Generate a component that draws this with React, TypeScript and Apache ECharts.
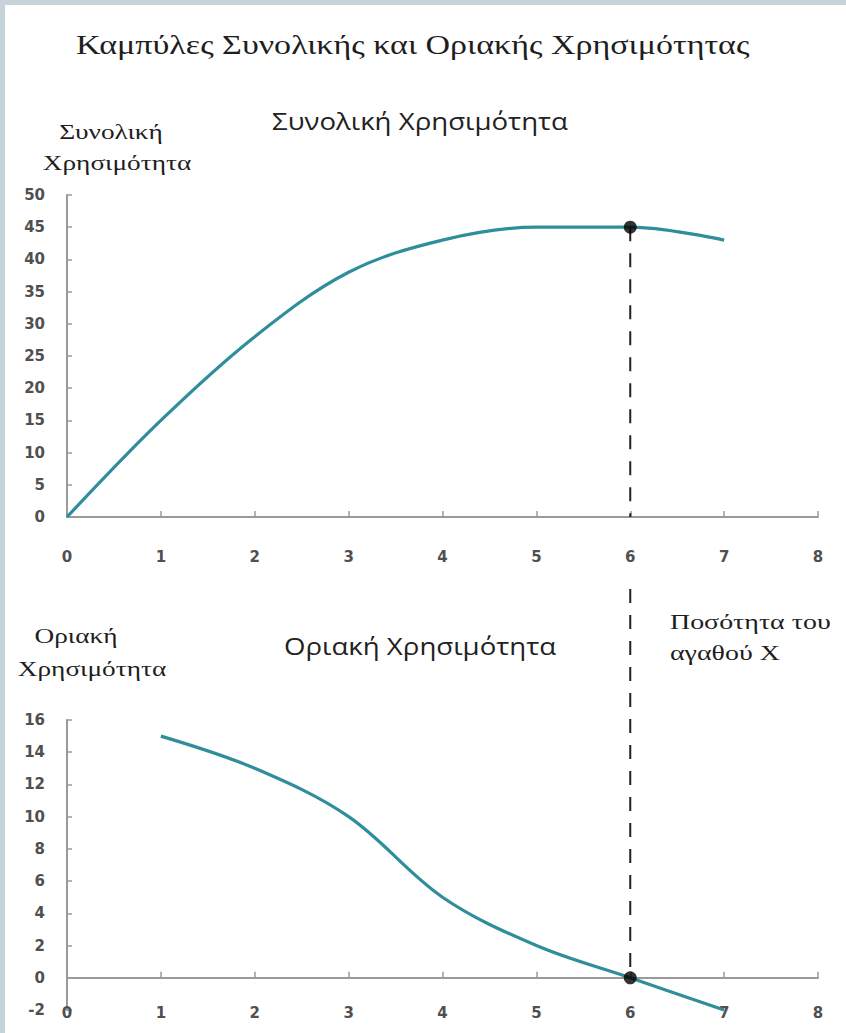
import React, { useEffect, useRef } from "react";
import * as echarts from "echarts";

const xTicks = [0, 1, 2, 3, 4, 5, 6, 7, 8];
const tuQty = [0, 1, 2, 3, 4, 5, 6, 7];
const tuValues = [0, 15, 28, 38, 43, 45, 45, 43];
const muQty = [1, 2, 3, 4, 5, 6, 7];
const muValues = [15, 13, 10, 5, 2, 0, -2];
const optimumQty = 6;
const tuAtOptimum = 45;
const muAtOptimum = 0;

const mainTitle = "Καμπύλες Συνολικής και Οριακής Χρησιμότητας";
const tuTitle = "Συνολική Χρησιμότητα";
const muTitle = "Οριακή Χρησιμότητα";
const tuAxisName = ["Συνολική", "Χρησιμότητα"];
const muAxisName = ["Οριακή", "Χρησιμότητα"];
const qtyName = ["Ποσότητα του", "αγαθού Χ"];

const AXIS = "#9a9a9a";
const LINE = "#2f8e9b";
const TICK_TEXT = "#505050";
const SERIF = "'Liberation Serif', 'DejaVu Serif', serif";
const SANS = "'Open Sans', 'Noto Sans', sans-serif";
const TICK_FONT = "'DejaVu Sans', sans-serif";

export default function App() {
  const ref = useRef<HTMLDivElement>(null);
  useEffect(() => {
    const chart = echarts.init(ref.current!, null, { renderer: "svg" });
    const tickLabel = (margin: number, show = true) => ({
      show,
      margin,
      color: TICK_TEXT,
      fontFamily: TICK_FONT,
      fontWeight: "bold",
      fontSize: 15,
    });
    const xAxisBase = (gridIndex: number, labelShow: boolean, margin: number) => ({
      type: "value",
      gridIndex,
      min: xTicks[0],
      max: xTicks[xTicks.length - 1],
      interval: 1,
      axisLine: { show: true, onZero: true, lineStyle: { color: AXIS, width: 2 } },
      axisTick: { show: true, inside: true, length: 6, lineStyle: { color: AXIS, width: 1.5 } },
      axisLabel: tickLabel(margin, labelShow),
      splitLine: { show: false },
    });
    const yAxisBase = (gridIndex: number, min: number, max: number, interval: number) => ({
      type: "value",
      gridIndex,
      min,
      max,
      interval,
      axisLine: { show: true, lineStyle: { color: AXIS, width: 2 } },
      axisTick: { show: true, inside: true, length: 5, lineStyle: { color: AXIS, width: 1.5 } },
      axisLabel: tickLabel(22),
      splitLine: { show: false },
    });

    const serifText = (id: string, x: number, y: number, text: string, size: number, sx: number, align = "left") => ({
      id,
      type: "text",
      x,
      y,
      scaleX: sx,
      style: { text, font: `${size}px ${SERIF}`, fill: "#1e1e1e", textAlign: align, textVerticalAlign: "middle" },
    });

    const texts: any[] = [
      { id: "bt", type: "rect", shape: { x: 0, y: 0, width: 846, height: 5 }, style: { fill: "#c7d3db" }, z: 0 },
      { id: "bl", type: "rect", shape: { x: 0, y: 0, width: 5, height: 1033 }, style: { fill: "#c7d3db" }, z: 0 },
      serifText("t0", 76, 45, mainTitle, 27, 1.26),
      {
        id: "t1", type: "text", x: 272, y: 121, scaleX: 1.15,
        style: { text: tuTitle, font: `24px ${SANS}`, fill: "#222", textVerticalAlign: "middle" },
      },
      {
        id: "t2", type: "text", x: 284, y: 646, scaleX: 1.15,
        style: { text: muTitle, font: `24px ${SANS}`, fill: "#222", textVerticalAlign: "middle" },
      },
      serifText("t3", 111, 132, tuAxisName[0], 21, 1.3, "center"),
      serifText("t4", 117, 163, tuAxisName[1], 21, 1.3, "center"),
      serifText("t5", 76, 636, muAxisName[0], 21, 1.3, "center"),
      serifText("t6", 92, 669, muAxisName[1], 21, 1.3, "center"),
      serifText("t7", 670, 622, qtyName[0], 21, 1.33),
      serifText("t8", 670, 653, qtyName[1], 21, 1.33),
    ];

    chart.setOption({
      animation: false,
      backgroundColor: "#ffffff",
      grid: [
        { left: 67, right: 28, top: 195, height: 322, outerBoundsMode: "none" },
        { left: 67, right: 28, top: 720, height: 290, outerBoundsMode: "none" },
      ],
      xAxis: [
        xAxisBase(0, true, 32),
        xAxisBase(1, false, 8),
        {
          type: "value",
          gridIndex: 1,
          position: "bottom",
          offset: -12,
          min: xTicks[0],
          max: xTicks[xTicks.length - 1],
          interval: 1,
          axisLine: { show: false, onZero: false },
          axisTick: { show: false },
          axisLabel: tickLabel(7),
          splitLine: { show: false },
        },
      ],
      yAxis: [yAxisBase(0, 0, 50, 5), yAxisBase(1, -2, 16, 2)],
      graphic: texts,
      series: [
        {
          type: "line",
          xAxisIndex: 0,
          yAxisIndex: 0,
          data: tuQty.map((q, i) => [q, tuValues[i]]),
          smooth: 0.35,
          showSymbol: false,
          lineStyle: { color: LINE, width: 3.2 },
          z: 3,
        },
        {
          type: "line",
          xAxisIndex: 1,
          yAxisIndex: 1,
          data: muQty.map((q, i) => [q, muValues[i]]),
          smooth: 0.35,
          showSymbol: false,
          lineStyle: { color: LINE, width: 3.2 },
          z: 3,
        },
        {
          type: "scatter",
          xAxisIndex: 0,
          yAxisIndex: 0,
          data: [[optimumQty, tuAtOptimum]],
          symbolSize: 13,
          itemStyle: { color: "#000" },
          z: 5,
        },
        {
          type: "scatter",
          xAxisIndex: 1,
          yAxisIndex: 1,
          data: [[optimumQty, muAtOptimum]],
          symbolSize: 13,
          itemStyle: { color: "#000" },
          z: 5,
        },
      ],
    });

    const p1 = chart.convertToPixel({ gridIndex: 0 }, [optimumQty, tuAtOptimum]) as number[];
    const pAxis = chart.convertToPixel({ gridIndex: 0 }, [optimumQty, 0]) as number[];
    const p2 = chart.convertToPixel({ gridIndex: 1 }, [optimumQty, muAtOptimum]) as number[];
    chart.setOption({
      graphic: [
        ...texts,
        {
          id: "d1",
          type: "line",
          shape: { x1: p1[0], y1: p1[1], x2: pAxis[0], y2: pAxis[1] },
          style: { stroke: "#222", lineWidth: 2, lineDash: [14, 12] },
          z: 1,
        },
        {
          id: "d2",
          type: "line",
          shape: { x1: pAxis[0], y1: pAxis[1] + 72, x2: p2[0], y2: p2[1] },
          style: { stroke: "#222", lineWidth: 2, lineDash: [14, 12] },
          z: 1,
        },
      ],
    });

    return () => chart.dispose();
  }, []);
  return (
    <div
      ref={ref}
      style={{ position: "absolute", left: 0, top: 0, width: 846, height: 1033 }}
    />
  );
}
